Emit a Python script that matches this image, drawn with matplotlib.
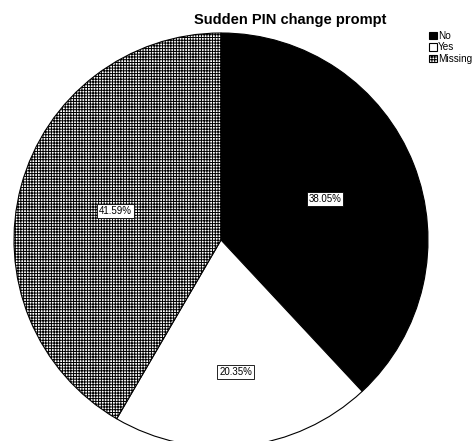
import matplotlib
matplotlib.use("Agg")
import matplotlib.pyplot as plt
import numpy as np

# pie data
labels = ["No", "Yes", "Missing"]
percents = [38.05, 20.35, 41.59]
colors = ["black", "white", "white"]
hatches = [None, None, "++++++"]
# where each percent box sits, as a fraction of the radius
label_dist = [0.54, 0.64, 0.53]

plt.rcParams["font.family"] = ["Liberation Sans", "DejaVu Sans"]
plt.rcParams["hatch.linewidth"] = 0.7

fig = plt.figure(figsize=(4.72, 4.41), dpi=100)
ax = fig.add_axes([0, 0, 1, 1])

cx, cy, r = 221, 441 - 240, 207
wedges, texts, autotexts = ax.pie(
    percents, colors=colors, startangle=90, counterclock=False,
    center=(cx, cy), radius=r, frame=True,
    autopct="%.2f%%", pctdistance=0.58,
    wedgeprops=dict(edgecolor="black", linewidth=0.8),
    textprops=dict(fontsize=7, color="black"))
ax.set_xlim(0, 472)
ax.set_ylim(0, 441)
ax.axis("off")

for w, h in zip(wedges, hatches):
    if h:
        w.set_hatch(h)

for w, t, d in zip(wedges, autotexts, label_dist):
    ang = np.deg2rad((w.theta1 + w.theta2) / 2)
    t.set_position((cx + d * r * np.cos(ang), cy + d * r * np.sin(ang)))
    t.set_bbox(dict(facecolor="white", edgecolor="black", linewidth=0.6, pad=1.5))

ax.text(290, 441 - 20, "Sudden PIN change prompt", ha="center", va="center",
        fontsize=10.5, fontweight="bold")

ax.legend(wedges, labels, loc="upper left", bbox_to_anchor=(429 / 472, 1 - 31 / 441),
          frameon=False, fontsize=7.2, handlelength=0.8, handleheight=0.8,
          handletextpad=0.12, labelspacing=0.15, borderpad=0, borderaxespad=0)

fig.savefig("out.png", dpi=100)
